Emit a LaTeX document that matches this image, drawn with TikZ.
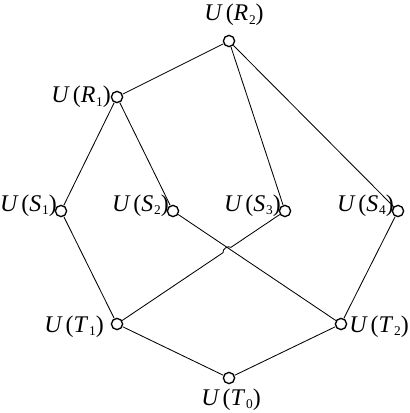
\documentclass[tikz,border=0pt]{standalone}
\usepackage{fontspec}
\setmainfont{Liberation Serif}
\newcommand{\ulbl}[2]{\textit{U}\kern0.12em(\textit{#1}\kern0.03em\raisebox{-2.6pt}{\fontsize{9.5}{10}\selectfont #2})}

\begin{document}
\begin{tikzpicture}[
    x=0.025cm, y=-0.025cm,
    vtx/.style={draw, circle, fill=white, inner sep=0pt,
                minimum size=0.28cm, line width=0.95pt},
    edge/.style={line width=0.6pt},
    lbl/.style={font=\fontsize{17}{20}\selectfont, inner sep=0pt}
  ]
  \useasboundingbox (0,0) rectangle (409,413);

  % vertices
  \node[vtx] (r2) at (229, 41) {};
  \node[vtx] (r1) at (117, 97) {};
  \node[vtx] (s1) at (61, 211) {};
  \node[vtx] (s2) at (173, 211) {};
  \node[vtx] (s3) at (285, 211) {};
  \node[vtx] (s4) at (398, 211) {};
  \node[vtx] (t1) at (117, 324) {};
  \node[vtx] (t2) at (341, 324) {};
  \node[vtx] (t0) at (229, 378) {};

  % labels
  \node[lbl, anchor=base] (lr2) at (234, 21) {\ulbl{R}{2}};
  \node[lbl, anchor=base east] (lr1) at (111, 103) {\ulbl{R}{1}};
  \node[lbl, anchor=base east] (ls1) at (57, 211) {\ulbl{S}{1}};
  \node[lbl, anchor=base east] (ls2) at (169, 211) {\ulbl{S}{2}};
  \node[lbl, anchor=base east] (ls3) at (281, 211) {\ulbl{S}{3}};
  \node[lbl, anchor=base east] (ls4) at (394, 211) {\ulbl{S}{4}};
  \node[lbl, anchor=base east] (lt1) at (104, 332) {\ulbl{T}{1}};
  \node[lbl, anchor=base west] (lt2) at (349, 332) {\ulbl{T}{2}};
  \node[lbl, anchor=base] (lt0) at (231, 405) {\ulbl{T}{0}};

  % edges
  \draw[edge] (r1) -- (r2);
  \draw[edge] (r1) -- (s1);
  \draw[edge] (r1) -- (s2);
  \draw[edge] (r2) -- (s3);
  \draw[edge] (r2) -- (s4);
  \draw[edge] (s1) -- (t1);
  \draw[edge] (s2) -- (t2);
  \draw[edge] (s4) -- (t2);
  \draw[edge] (t1) -- (t0);
  \draw[edge] (t2) -- (t0);

  % s3 -- t1 with a small hop over s2 -- t2
  \path (s3) -- (t1) coordinate[pos=0.31] (h1) coordinate[pos=0.36] (h2);
  \draw[edge] (s3) -- (h1) to[bend right=70] (h2) -- (t1);
\end{tikzpicture}
\end{document}
